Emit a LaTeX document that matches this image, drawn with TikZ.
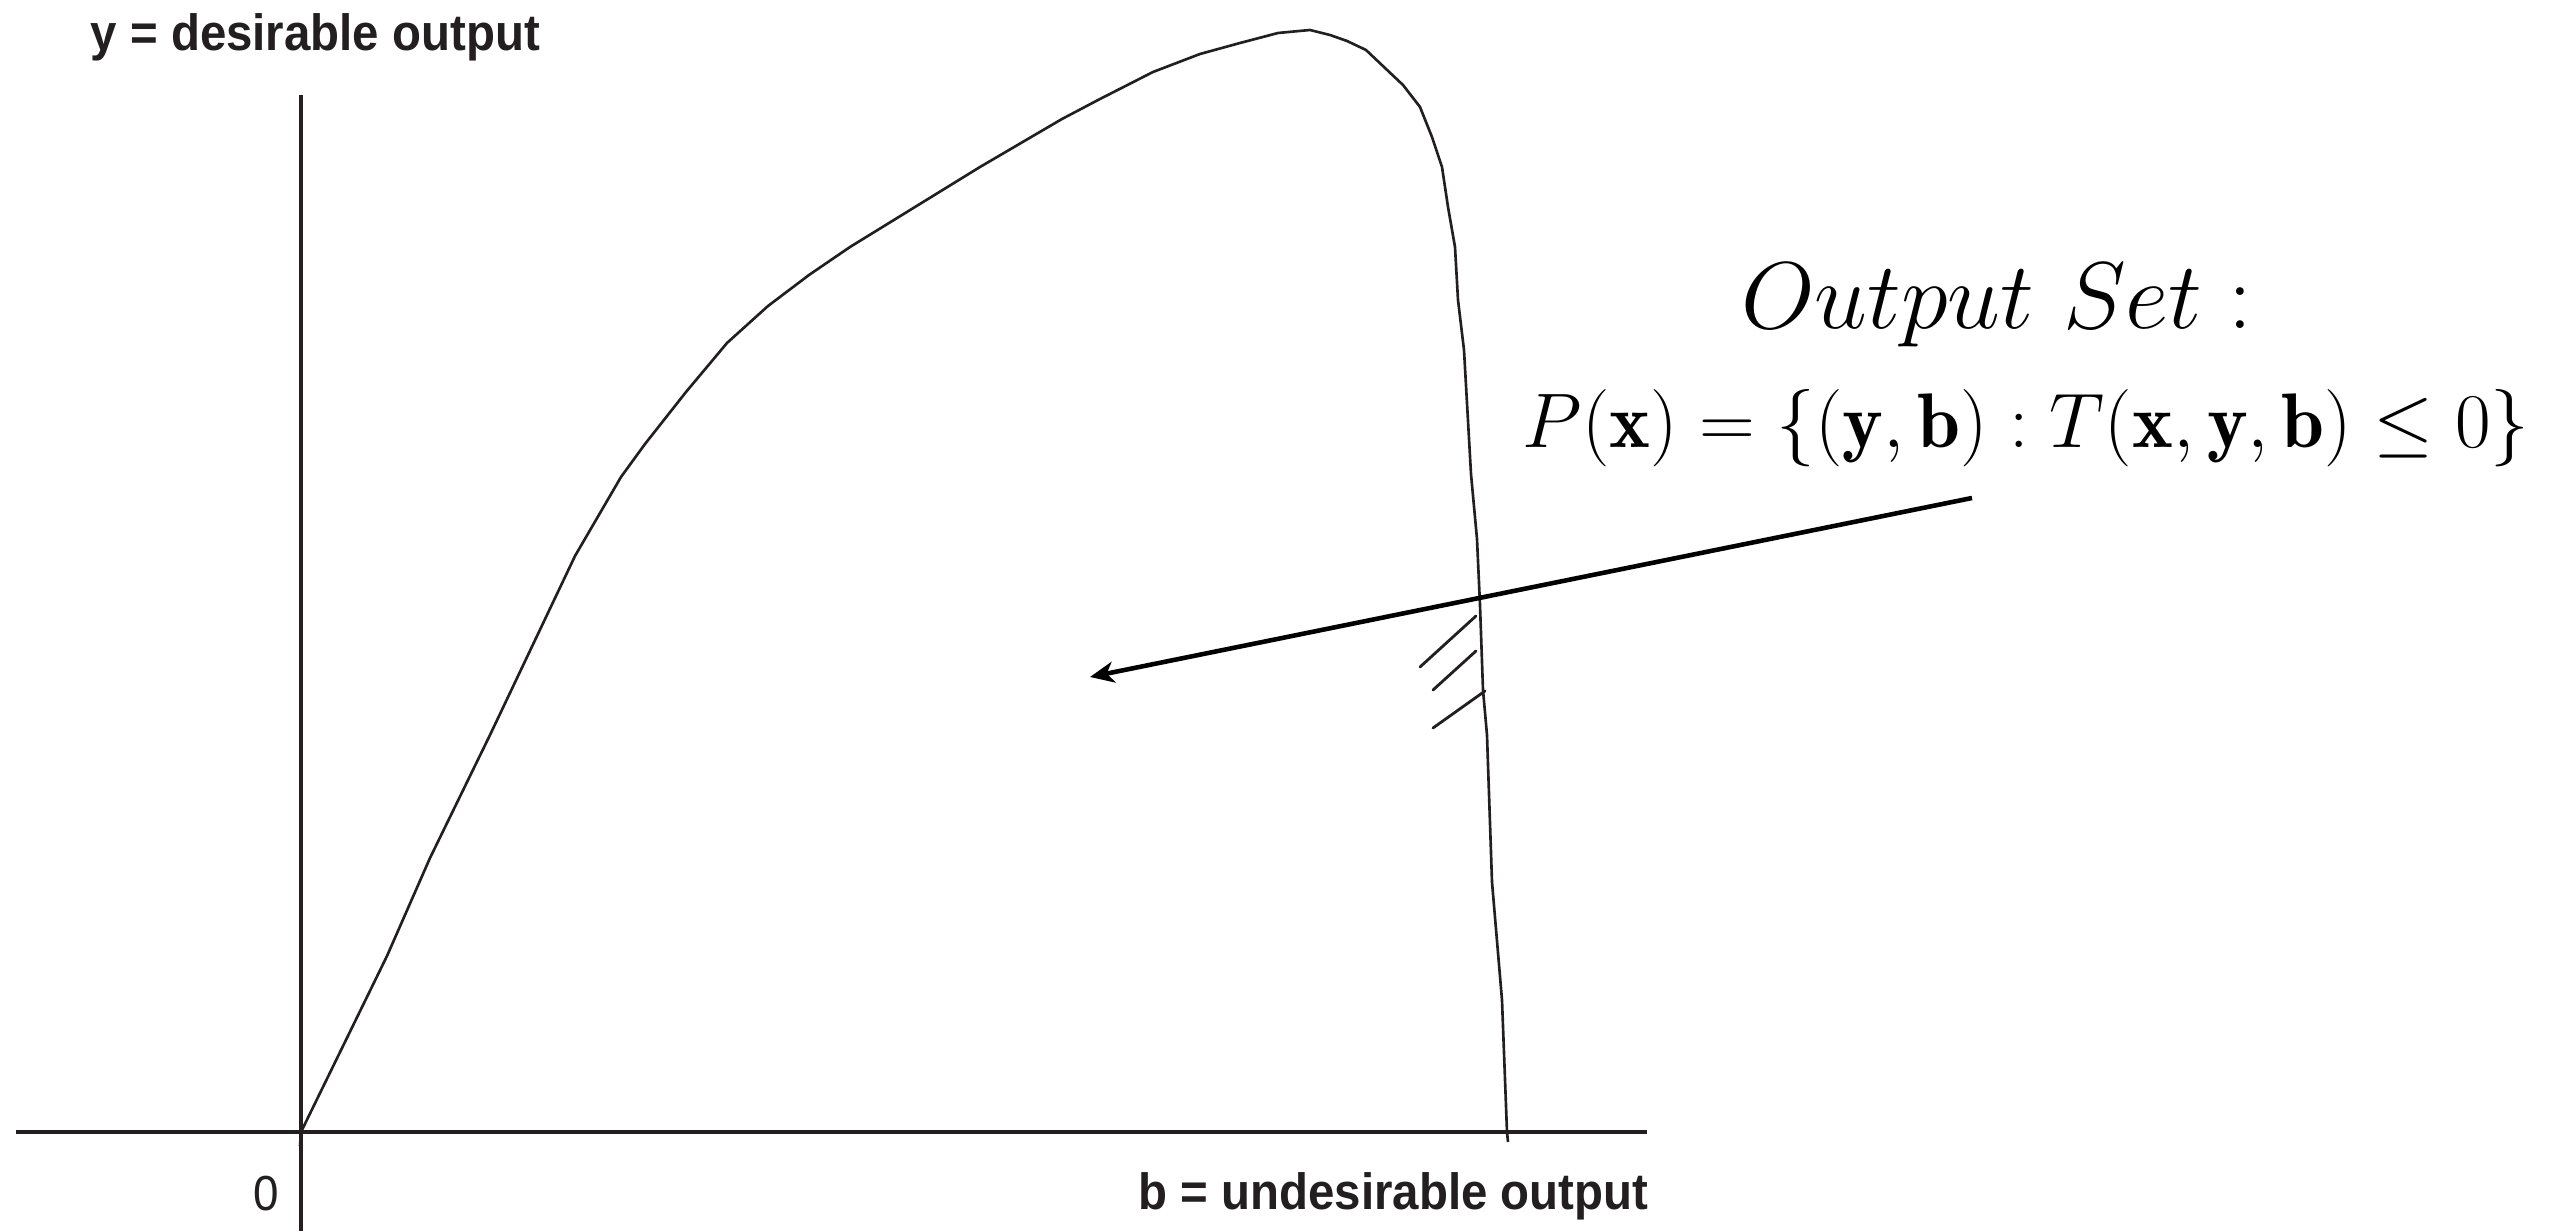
\RequirePackage{fix-cm}
\documentclass[tikz,border=0pt]{standalone}
\usepackage{fontspec}
\newfontfamily\axisfont[FakeStretch=0.93]{Liberation Sans}
\usetikzlibrary{arrows.meta}
\definecolor{inkcol}{RGB}{35,31,32}

\begin{document}
\begin{tikzpicture}[x=0.01cm, y=-0.01cm,
  axis/.style={draw=inkcol, line width=1.1pt},
  frontier/.style={draw=inkcol, line width=0.75pt, line join=round},
  hatch/.style={draw=inkcol, line width=0.8pt, line cap=round},
  pointer/.style={draw=black, line width=1.3pt, -{Stealth[length=2.4mm, width=2.1mm, inset=0.7mm]}},
  axislabel/.style={text=inkcol, inner sep=0pt, font=\axisfont\bfseries\fontsize{14.5}{17}\selectfont},
  mathlabel/.style={inner sep=0pt},
]
\useasboundingbox (0,0) rectangle (2562,1231);

% ===== Axes =====
\coordinate (origin) at (301,1132);
\coordinate (xEnd) at (1647,1132);
\coordinate (xStart) at (16,1132);
\coordinate (yTop) at (301,95);
\coordinate (yBottom) at (301,1231);
\draw[axis] (xStart) -- (xEnd);
\draw[axis] (yBottom) -- (yTop);

% ===== Axis labels =====
\node[axislabel, anchor=base west] (yLabel) at (90,51) {y = desirable output};
\node[axislabel, anchor=base east] (bLabel) at (1649,1210) {b = undesirable output};
\node[text=inkcol, inner sep=0pt, anchor=base, font=\axisfont\fontsize{14}{17}\selectfont] (zeroLabel) at (266,1211) {0};

% ===== Output set frontier =====
\draw[frontier] (300,1146) -- (origin) -- (387,956) -- (430,858) -- (490,735)
  -- (575,556) -- (621,477) -- (645,444) -- (686,392) -- (727,343) -- (768,306)
  -- (809,275) -- (850,247) -- (980,167) -- (1062,119) -- (1100,99) -- (1153,72)
  -- (1200,54) -- (1240,43) -- (1278,33) -- (1310,30) -- (1330,35) -- (1347,41)
  -- (1366,50) -- (1385,68) -- (1403,85) -- (1420,107) -- (1432,137) -- (1442,167)
  -- (1448,207) -- (1455,247) -- (1458,300) -- (1464,350) -- (1471,474) -- (1477,539)
  -- (1480,605) -- (1483,690) -- (1487,735) -- (1492,882) -- (1502,1000)
  -- (1507,1132) -- (1508,1142);

% ===== Hatching on the boundary =====
\draw[hatch] (1420,667) -- (1476,616);
\draw[hatch] (1433,690) -- (1476,651);
\draw[hatch] (1433,728) -- (1485,691);

% ===== Set definition =====
\node[mathlabel, anchor=base, font=\fontsize{27}{32}\selectfont] (setTitle) at (1997,329) {$Output\ Set:$};
\node[mathlabel, anchor=base west, font=\fontsize{22}{26}\selectfont] (setDef) at (1522,448)
  {$P(\mathbf{x})=\{(\mathbf{y},\mathbf{b}):T(\mathbf{x},\mathbf{y},\mathbf{b})\leq 0\}$};

% ===== Pointer into the set =====
\coordinate (setTail) at (1972,498);
\coordinate (setTip) at (1090,677);
\draw[pointer] (setTail) -- (setTip);
\end{tikzpicture}
\end{document}
